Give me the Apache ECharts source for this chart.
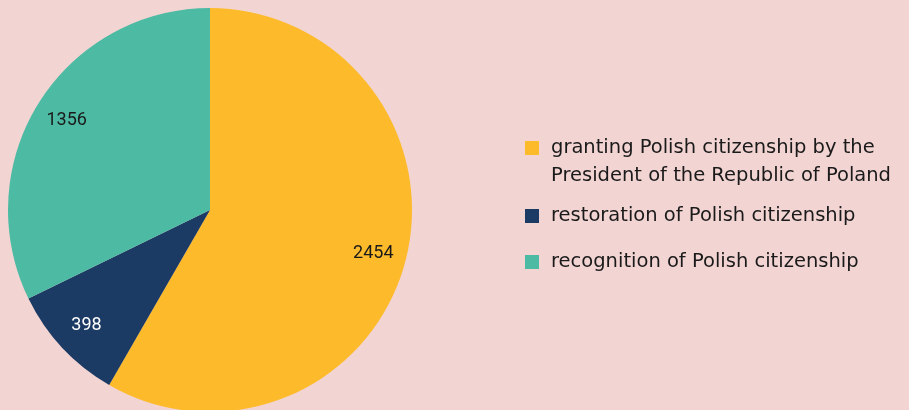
<!DOCTYPE html>
<html>
<head>
<meta charset="utf-8">
<style>
  html, body { margin: 0; padding: 0; background: #f2d4d3; }
  #chart { width: 909px; height: 410px; }
</style>
<script src="https://cdn.jsdelivr.net/npm/echarts@6/dist/echarts.min.js"></script>
</head>
<body>
<div id="chart"></div>
<script>
// Decisions on Polish citizenship, by procedure
const categories = [
  'granting Polish citizenship by the President of the Republic of Poland',
  'restoration of Polish citizenship',
  'recognition of Polish citizenship'
];
const values = [2454, 398, 1356];
const colors = ['#fdbb2b', '#1b3a64', '#4dbaa3'];
const labelColors = ['#1a1a1a', '#ffffff', '#1a1a1a'];

const LEGEND_FONT = 'DejaVu Sans';
const LABEL_FONT = 'Roboto';
const chart = echarts.init(document.getElementById('chart'), null, { renderer: 'canvas' });

const pieData = categories.map((name, i) => ({
  name, value: values[i], itemStyle: { color: colors[i] }
}));

// one legend block per entry so the two-line entry keeps its swatch on the first line
const legendTops = [106, 202, 248];
const legends = categories.map((name, i) => ({
  orient: 'vertical',
  left: 525,
  top: legendTops[i],
  padding: 0,
  itemWidth: 14,
  itemHeight: 14,
  icon: 'rect',
  selectedMode: false,
  textStyle: {
    fontFamily: LEGEND_FONT,
    fontSize: 19.5,
    color: '#1a1a1a',
    lineHeight: 28,
    padding: [0, 0, 0, 7]
  },
  data: [name],
  // leading empty line centres the first text line on the swatch
  formatter: n => n.includes(' the President')
    ? '\n' + n.replace(' the President', ' the\nPresident')
    : n
}));

chart.setOption({
  backgroundColor: '#f2d4d3',
  animation: false,
  legend: legends,
  series: [
    {
      type: 'pie',
      center: [210, 210],
      radius: [0, 202],
      startAngle: 90,
      clockwise: true,
      label: { show: false },
      labelLine: { show: false },
      emphasis: { disabled: true },
      data: pieData
    },
    {
      // transparent ring whose inside labels sit near the outer edge
      type: 'pie',
      center: [210, 210],
      radius: [130, 202],
      startAngle: 90,
      clockwise: true,
      silent: true,
      legendHoverLink: false,
      itemStyle: { color: 'rgba(0,0,0,0)' },
      labelLine: { show: false },
      emphasis: { disabled: true },
      label: {
        show: true,
        position: 'inside',
        fontFamily: LABEL_FONT,
        fontSize: 18,
        formatter: p => String(p.value)
      },
      data: categories.map((name, i) => ({
        name: name + ' ',
        value: values[i],
        label: { color: labelColors[i] }
      }))
    }
  ]
});
</script>
</body>
</html>
